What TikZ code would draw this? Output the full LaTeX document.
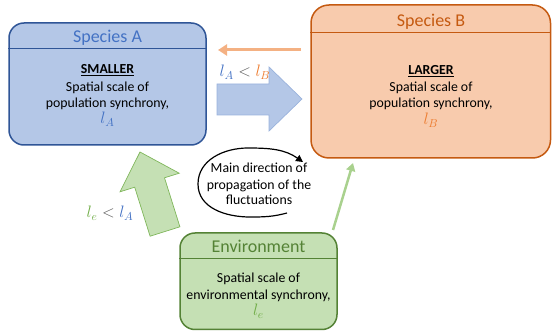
\documentclass[tikz,border=0pt]{standalone}
\usepackage{fontspec}
\setmainfont{Carlito}
\usetikzlibrary{arrows.meta}
\definecolor{blueFill}{HTML}{B4C7E7}
\definecolor{blueLine}{HTML}{2F5597}
\definecolor{blueText}{HTML}{4472C4}
\definecolor{blueEdge}{HTML}{9AB2DC}
\definecolor{orFill}{HTML}{F8CBAD}
\definecolor{orLine}{HTML}{C55A11}
\definecolor{orText}{HTML}{ED7D31}
\definecolor{orArrow}{HTML}{F4B183}
\definecolor{grFill}{HTML}{C5E0B4}
\definecolor{grLine}{HTML}{548235}
\definecolor{grText}{HTML}{70AD47}
\definecolor{grEdge}{HTML}{7FB65A}
\definecolor{grArrow}{HTML}{A9D18E}
\definecolor{ltGray}{HTML}{595959}
\newcommand{\mymth}[1]{\scalebox{1.15}{$#1$}}
\begin{document}
\begin{tikzpicture}[x=1pt,y=1pt,
  box/.style={line width=1.5pt, inner sep=0pt},
  sepline/.style={line width=0.8pt},
  title/.style={anchor=base, font=\fontsize{18}{20}\selectfont, inner sep=0pt},
  body/.style={anchor=base, font=\fontsize{13.8}{16}\selectfont, inner sep=0pt, text=black},
  blockarrow/.style={line width=0.7pt, line join=miter},
]
\useasboundingbox (0,0) rectangle (552,-331);

% boxes
\node[box, rounded corners=15pt, draw=blueLine, fill=blueFill, minimum width=197pt, minimum height=122pt] (boxA) at (107.5,-84) {};
\node[box, rounded corners=18pt, draw=orLine, fill=orFill, minimum width=239.5pt, minimum height=153pt] (boxB) at (430.75,-81.5) {};
\node[box, rounded corners=15pt, draw=grLine, fill=grFill, minimum width=157pt, minimum height=96.5pt] (boxE) at (258.5,-281.25) {};

\coordinate (sepA) at (0,-48);
\coordinate (sepB) at (0,-32);
\coordinate (sepE) at (0,-258);
\draw[sepline, blueLine] (boxA.west |- sepA) -- (boxA.east |- sepA);
\draw[sepline, orLine] (boxB.west |- sepB) -- (boxB.east |- sepB);
\draw[sepline, grLine] (boxE.west |- sepE) -- (boxE.east |- sepE);

% titles
\node[title, text=blueText] (tA) at (107.5,-43) {Species A};
\node[title, text=orLine] (tB) at (431,-27) {Species B};
\node[title, text=grLine] (tE) at (258.5,-253) {Environment};

% body A
\node[body] (a1) at (107.5,-74) {\textbf{\underline{SMALLER}}};
\node[body] (a2) at (107.5,-92) {Spatial scale of};
\node[body] (a3) at (107.5,-108) {population synchrony,};
\node[body] (a4) at (107.5,-124) {\mymth{\color{blueText}l_A}};

% body B
\node[body] (b1) at (431,-75) {\textbf{\underline{LARGER}}};
\node[body] (b2) at (431,-92) {Spatial scale of};
\node[body] (b3) at (431,-108) {population synchrony,};
\node[body] (b4) at (431,-125) {\mymth{\color{orText}l_B}};

% body E
\node[body] (e1) at (258.5,-283) {Spatial scale of};
\node[body] (e2) at (258.5,-300) {environmental synchrony,};
\node[body] (e3) at (258.5,-316) {\mymth{\color{grText}l_e}};

% orange arrow B -> A
\coordinate (oS) at (301,-50);
\coordinate (oE) at (218,-50);
\draw[orArrow, line width=3pt, -{Triangle[length=9pt,width=11pt]}] (oS) -- (oE);

% blue block arrow
\draw[blockarrow, draw=blueEdge, fill=blueFill] (217,-84) -- (269,-84) -- (269,-67) -- (302,-99) -- (269,-131) -- (269,-115) -- (217,-115) -- cycle;
\node[body] (lab1) at (245,-77) {\mymth{\color{blueText}l_A \color{ltGray}< \color{orText}l_B}};

% green block arrow
\draw[blockarrow, draw=grEdge, fill=grFill] (140,-152) -- (179.2,-173.2) -- (164.5,-177.8) -- (179.9,-226.8) -- (150.1,-236.2) -- (134.7,-187.2) -- (120,-191.8) -- cycle;
\node[body] (lab2) at (110,-218) {\mymth{\color{grText}l_e \color{ltGray}< \color{blueText}l_A}};

% green thin arrow E -> B
\coordinate (gS) at (333,-230);
\coordinate (gE) at (353,-163);
\draw[grArrow, line width=2.5pt, -{Triangle[length=8pt,width=9pt]}] (gS) -- (gE);

% circular arrow and text
\coordinate (c0) at (287,-213);
\coordinate (c1) at (250,-217);
\coordinate (c2) at (198,-184);
\coordinate (c3) at (248,-148);
\coordinate (c4) at (303,-162);
\draw[black, line width=1.2pt, -{Triangle[length=7pt,width=7pt]}] (c0) to[out=195,in=0] (c1) to[out=180,in=270] (c2) to[out=90,in=180] (c3) to[out=0,in=145] (c4);
\node[body] (m1) at (259,-173) {Main direction of};
\node[body] (m2) at (259,-190) {propagation of the};
\node[body] (m3) at (259,-205) {fluctuations};
\end{tikzpicture}
\end{document}
